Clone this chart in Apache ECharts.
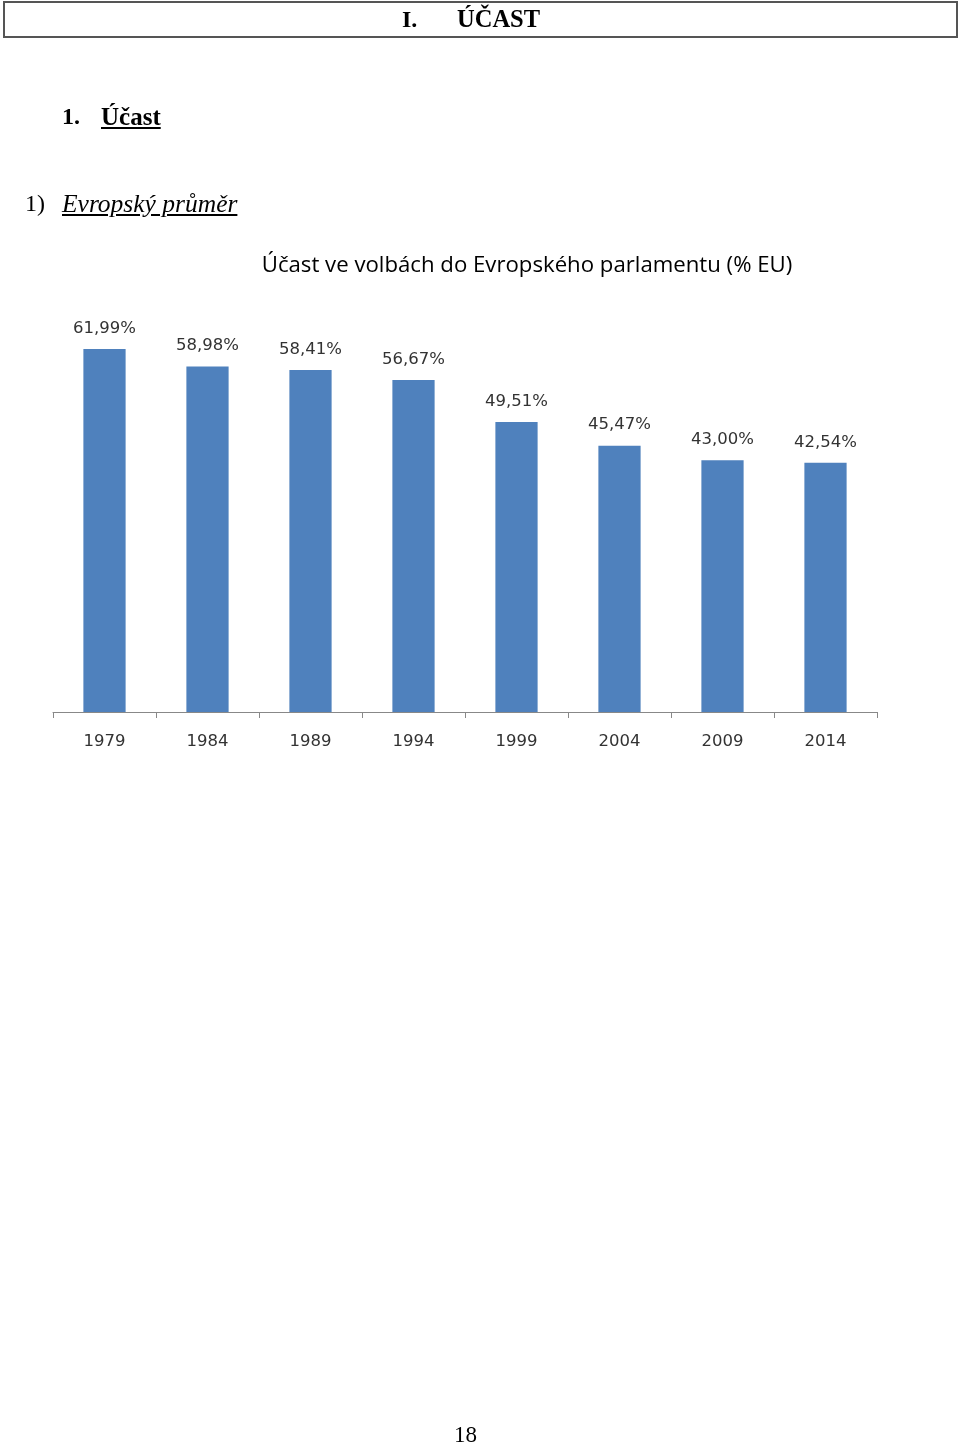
<!DOCTYPE html>
<html>
<head>
<meta charset="utf-8">
<script src="https://cdn.jsdelivr.net/npm/echarts@6/dist/echarts.min.js"></script>
<style>
  html, body { margin: 0; padding: 0; background: #fff; }
  #page { position: relative; width: 960px; height: 1446px; overflow: hidden; }
  #chart { position: absolute; left: 0; top: 0; width: 960px; height: 1446px; }
  .doc { position: absolute; font-family: "Liberation Serif", "Times New Roman", serif; color: #000; white-space: nowrap; line-height: 1; }
  #hdr { position: absolute; left: 3px; top: 1px; width: 951px; height: 33px; border: 2px solid #555; box-sizing: content-box; }
</style>
</head>
<body>
<div id="page">
  <div id="chart"></div>
  <div id="hdr"></div>
  <div class="doc" style="left:402px; top:7px; font-size:24px; font-weight:bold;">I.</div>
  <div class="doc" style="left:457px; top:7px; font-size:24.5px; font-weight:bold;">ÚČAST</div>
  <div class="doc" style="left:62px; top:104px; font-size:24px; font-weight:bold;">1.</div>
  <div class="doc" style="left:101px; top:104px; font-size:25px; font-weight:bold; text-decoration:underline;">Účast</div>
  <div class="doc" style="left:25px; top:191px; font-size:24px;">1)</div>
  <div class="doc" style="left:62px; top:191px; font-size:25.5px; font-style:italic; text-decoration:underline;">Evropský průměr</div>
  <div class="doc" style="left:454px; top:1423px; font-size:23px;">18</div>
</div>
<script>
const categories = ["1979", "1984", "1989", "1994", "1999", "2004", "2009", "2014"];
const turnout = [61.99, 58.98, 58.41, 56.67, 49.51, 45.47, 43.00, 42.54];
const chartTitle = "Účast ve volbách do Evropského parlamentu (% EU)";

const chart = echarts.init(document.getElementById('chart'), null, { renderer: 'canvas' });
chart.setOption({
  animation: false,
  backgroundColor: '#fff',
  title: {
    text: chartTitle,
    left: 522,
    top: 250,
    textAlign: 'center',
    textStyle: { fontFamily: 'Open Sans', fontSize: 22.2, fontWeight: 'normal', color: '#000' }
  },
  grid: { left: 53, right: 83, top: 302, bottom: 734, containLabel: false },
  xAxis: {
    type: 'category',
    data: categories,
    boundaryGap: true,
    axisLine: { lineStyle: { color: '#888', width: 1 } },
    axisTick: { show: true, length: 6, lineStyle: { color: '#888' } },
    axisLabel: { margin: 21, fontFamily: 'DejaVu Sans', fontSize: 16.5, color: '#333' }
  },
  yAxis: {
    type: 'value', min: 0, max: 70, show: false, splitLine: { show: false }
  },
  series: [{
    type: 'bar',
    data: turnout,
    barWidth: '41%',
    itemStyle: { color: '#4f81bd' },
    label: {
      show: true,
      position: 'top',
      distance: 12,
      fontFamily: 'DejaVu Sans',
      fontSize: 16.5,
      color: '#333',
      formatter: p => p.value.toFixed(2).replace('.', ',') + '%'
    }
  }]
});
</script>
</body>
</html>
